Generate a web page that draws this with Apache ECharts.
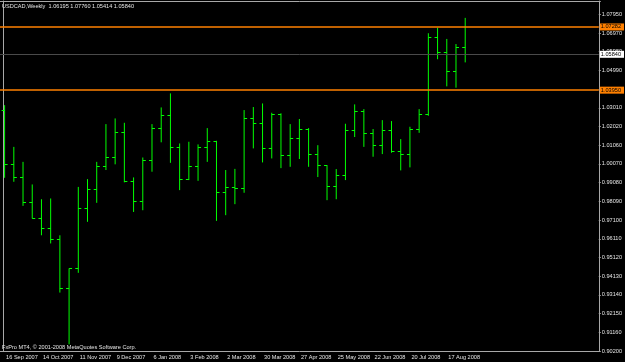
<!DOCTYPE html>
<html>
<head>
<meta charset="utf-8">
<script src="https://cdn.jsdelivr.net/npm/echarts@6/dist/echarts.min.js"></script>
<style>
  html, body { margin: 0; padding: 0; background: #000; }
  #main { width: 625px; height: 362px; }
</style>
</head>
<body>
<div id="main"></div>
<script>
// weekly bars, USDCAD
const weeks = [
  '16 Sep 2007', '23 Sep 2007', '30 Sep 2007', '7 Oct 2007', '14 Oct 2007', '21 Oct 2007', '28 Oct 2007',
  '4 Nov 2007', '11 Nov 2007', '18 Nov 2007', '25 Nov 2007', '2 Dec 2007', '9 Dec 2007', '16 Dec 2007',
  '23 Dec 2007', '30 Dec 2007', '6 Jan 2008', '13 Jan 2008', '20 Jan 2008', '27 Jan 2008', '3 Feb 2008',
  '10 Feb 2008', '17 Feb 2008', '24 Feb 2008', '2 Mar 2008', '9 Mar 2008', '16 Mar 2008', '23 Mar 2008',
  '30 Mar 2008', '6 Apr 2008', '13 Apr 2008', '20 Apr 2008', '27 Apr 2008', '4 May 2008', '11 May 2008',
  '18 May 2008', '25 May 2008', '1 Jun 2008', '8 Jun 2008', '15 Jun 2008', '22 Jun 2008', '29 Jun 2008',
  '6 Jul 2008', '13 Jul 2008', '20 Jul 2008', '27 Jul 2008', '3 Aug 2008', '10 Aug 2008', '17 Aug 2008',
  '24 Aug 2008', '31 Aug 2008'
];

const open = [1.0290, 1.0004, 0.9934, 0.9805, 0.9720, 0.9664, 0.9609, 0.9352, 0.9455, 0.9770,
  0.9870, 0.9995, 1.0040, 1.0174, 0.9914, 0.9810, 1.0024, 1.0195, 1.0262, 1.0091,
  0.9923, 0.9995, 1.0091, 1.0123, 0.9856, 0.9884, 0.9876, 1.0248, 1.0220, 1.0086,
  1.0265, 1.0051, 1.0140, 1.0190, 1.0057, 0.9996, 0.9889, 0.9946, 1.0183, 1.0281,
  1.0164, 1.0105, 1.0183, 1.0074, 1.0056, 1.0190, 1.0266, 1.0670, 1.0596, 1.0492, 1.06195];

const high = [1.0316, 1.0096, 1.0017, 0.9898, 0.9820, 0.9824, 0.9630, 0.9455, 0.9885, 0.9926,
  1.0017, 1.0216, 1.0246, 1.0223, 0.9935, 1.0040, 1.0216, 1.0304, 1.0378, 1.0114,
  1.0123, 1.0109, 1.0195, 1.0128, 0.9974, 0.9980, 1.0290, 1.0306, 1.0325, 1.0276,
  1.0273, 1.0216, 1.0243, 1.0195, 1.0105, 1.0000, 0.9979, 1.0218, 1.0320, 1.0295,
  1.0190, 1.0237, 1.0232, 1.0137, 1.0202, 1.0295, 1.0695, 1.0724, 1.0665, 1.0638, 1.07760];

const low = [0.9933, 0.9912, 0.9785, 0.9719, 0.9630, 0.9587, 0.9328, 0.9055, 0.9432, 0.9701,
  0.9801, 0.9974, 1.0004, 0.9909, 0.9753, 0.9762, 0.9965, 1.0120, 1.0012, 0.9868,
  0.9921, 0.9917, 1.0017, 0.9706, 0.9736, 0.9794, 0.9854, 1.0088, 1.0014, 1.0035,
  0.9984, 0.9991, 1.0032, 0.9991, 0.9937, 0.9815, 0.9820, 0.9921, 1.0148, 1.0096,
  1.0044, 1.0058, 1.0065, 0.9972, 0.9988, 1.0170, 1.0260, 1.0558, 1.0415, 1.0408, 1.05414];

const close = [1.0004, 0.9934, 0.9805, 0.9720, 0.9664, 0.9609, 0.9352, 0.9455, 0.9770, 0.9870,
  0.9995, 1.0040, 1.0174, 0.9914, 0.9810, 1.0024, 1.0195, 1.0262, 1.0091, 0.9923,
  0.9995, 1.0091, 1.0123, 0.9856, 0.9884, 0.9876, 1.0248, 1.0220, 1.0086, 1.0265,
  1.0051, 1.0140, 1.0190, 1.0057, 0.9996, 0.9889, 0.9946, 1.0183, 1.0281, 1.0164,
  1.0105, 1.0183, 1.0074, 1.0056, 1.0190, 1.0266, 1.0670, 1.0596, 1.0492, 1.06195, 1.05840];

// price scale labels, bottom to top
const priceLabels = ['0.90200', '0.91160', '0.92150', '0.93140', '0.94130', '0.95120', '0.96110',
  '0.97100', '0.98090', '0.99080', '1.00070', '1.01060', '1.02020', '1.03010', '1.04000',
  '1.04990', '1.05980', '1.06970', '1.07950'];

// horizontal levels: upper line, current price, lower line
const levels = [1.07282, 1.05840, 1.03950];

const yMin = 0.9020;
const yMax = 1.0865;
const yStep = 0.0098611;
const font = 'Liberation Sans';
const fg = '#e4e4e4';
const frame = '#a8a8a8';

const cats = weeks.concat(new Array(14).fill(''));
const bars = weeks.map((w, i) => [i, open[i], high[i], low[i], close[i]]);
const last = weeks.length - 1;
const header = 'USDCAD,Weekly  ' +
  [open[last], high[last], low[last], close[last]].map(v => v.toFixed(5)).join(' ');

const showTick = (i, v) => i % 4 === 0 && v !== '';

function priceLabel(v) {
  const k = Math.round((v - yMin) / yStep);
  if (Math.abs(v - (yMin + k * yStep)) > yStep / 10) return '';
  return priceLabels[k] || '';
}

function renderBar(params, api) {
  const i = api.value(0);
  const o = api.coord([i, api.value(1)]);
  const h = api.coord([i, api.value(2)]);
  const l = api.coord([i, api.value(3)]);
  const c = api.coord([i, api.value(4)]);
  const snap = y => Math.round(y - 0.5) + 0.5;
  const st = { stroke: '#00ff00', lineWidth: 1 };
  return {
    type: 'group',
    children: [
      { type: 'line', shape: { x1: h[0], y1: h[1], x2: l[0], y2: l[1] }, style: st },
      { type: 'line', shape: { x1: o[0] - 3, y1: snap(o[1]), x2: o[0], y2: snap(o[1]) }, style: st },
      { type: 'line', shape: { x1: c[0], y1: snap(c[1]), x2: c[0] + 3, y2: snap(c[1]) }, style: st }
    ]
  };
}

const levelStyle = [
  { line: '#ff8000', box: '#ff8000', width: 1.5 },
  { line: '#4a4a4a', box: '#ffffff', width: 1 },
  { line: '#ff8000', box: '#ff8000', width: 1.5 }
];

const option = {
  backgroundColor: '#000000',
  animation: false,
  title: [
    {
      text: header, left: 2, top: 3, padding: 0,
      textStyle: { color: fg, fontSize: 5.6, fontWeight: 'normal', fontFamily: font }
    },
    {
      text: 'FxPro MT4, © 2001-2008 MetaQuotes Software Corp.', left: 2, top: 344, padding: 0,
      textStyle: { color: fg, fontSize: 5.6, fontWeight: 'normal', fontFamily: font }
    }
  ],
  grid: { left: -2.833, right: 21.167, top: 1, bottom: 11 },
  xAxis: [
    {
      type: 'category', data: cats, boundaryGap: true, offset: 1,
      axisLine: { lineStyle: { color: frame, width: 1 } },
      axisTick: { alignWithLabel: true, interval: showTick, length: 3, lineStyle: { color: frame } },
      axisLabel: {
        interval: showTick, align: 'left', margin: 2, padding: [0, 0, 0, 1.5],
        color: fg, fontSize: 5.6, fontFamily: font
      },
      splitLine: { show: false }
    },
    {
      type: 'category', data: cats, position: 'top',
      axisLine: { lineStyle: { color: frame } },
      axisTick: { show: false }, axisLabel: { show: false }, splitLine: { show: false }
    }
  ],
  yAxis: [
    {
      type: 'value', position: 'right', min: yMin, max: yMax, interval: yStep,
      axisLine: { show: true, lineStyle: { color: frame } },
      axisTick: { show: true, length: 2, lineStyle: { color: frame } },
      axisLabel: { margin: 3, formatter: priceLabel, color: fg, fontSize: 5.6, fontFamily: font },
      splitLine: { show: false }
    },
    {
      type: 'value', position: 'left', offset: -3.3, min: 0, max: 1,
      axisLine: { show: true, lineStyle: { color: frame } },
      axisTick: { show: false }, axisLabel: { show: false }, splitLine: { show: false }
    }
  ],
  series: [
    {
      type: 'custom',
      xAxisIndex: 0,
      yAxisIndex: 0,
      renderItem: renderBar,
      encode: { x: 0, y: [1, 2, 3, 4] },
      data: bars,
      markLine: {
        silent: true,
        precision: 5,
        symbol: ['none', 'none'],
        data: levels.map((v, k) => ({
          yAxis: v,
          lineStyle: { color: levelStyle[k].line, type: 'solid', width: levelStyle[k].width },
          label: {
            show: true, position: 'end', distance: 1,
            formatter: () => v.toFixed(5),
            backgroundColor: levelStyle[k].box, color: '#000000',
            fontSize: 5.6, fontFamily: font, lineHeight: 6,
            padding: [0.5, 3, 0.5, 1]
          }
        }))
      }
    }
  ]
};

const chart = echarts.init(document.getElementById('main'));
chart.setOption(option);
</script>
</body>
</html>
